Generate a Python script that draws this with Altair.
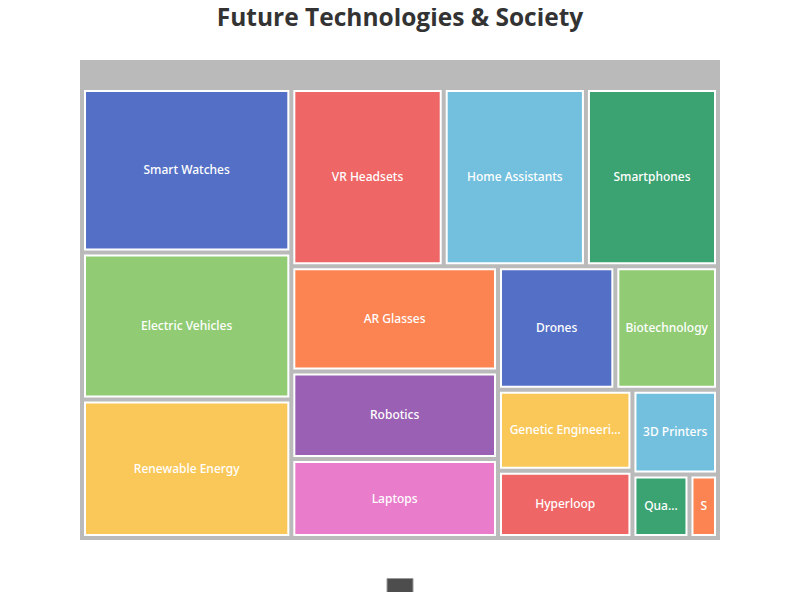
import math
import altair as alt
import pandas as pd

# ---- data ----
names = ["Smart Watches", "Electric Vehicles", "Renewable Energy", "VR Headsets",
         "Home Assistants", "Smartphones", "AR Glasses", "Robotics", "Laptops",
         "Drones", "Biotechnology", "Genetic Engineering", "Hyperloop",
         "3D Printers", "Quantum Computing", "Space Tourism"]
values = [95, 85, 80, 75, 70, 65, 60, 50, 45, 40, 35, 30, 25, 20, 10, 5]
title_text = "Future Technologies & Society"

# ---- style / layout parameters ----
palette = ['#5470c6', '#91cc75', '#fac858', '#ee6666', '#73c0de',
           '#3ba272', '#fc8452', '#9a60b4', '#ea7ccc']
W, H = 640, 480
CHILD_X, CHILD_Y, CHILD_W, CHILD_H = 2, 28, 636, 450
HALF_GAP = 2


def squarify(vals, x, y, w, h, hg):
    """ECharts-style squarified treemap layout."""
    total = float(sum(vals))
    areas = [v / total * w * h for v in vals]
    rect = {"x": x, "y": y, "width": w, "height": h}
    ratio = 0.5 * (1 + math.sqrt(5))
    out = [None] * len(vals)

    def worst(row, row_area, fixed):
        amax = max(areas[j] for j in row)
        amin = min(areas[j] for j in row)
        sq = row_area * row_area
        f = fixed * fixed * ratio
        return max(f * amax / sq, sq / (f * amin)) if sq else math.inf

    def position(row, row_area, fixed, flush):
        horiz = fixed == rect["width"]
        k0, k1 = ("x", "y") if horiz else ("y", "x")
        d0, d1 = ("width", "height") if horiz else ("height", "width")
        last = rect[k0]
        other = row_area / fixed if fixed else 0
        if flush or other > rect[d1]:
            other = rect[d1]
        for n, j in enumerate(row):
            step = areas[j] / other if other else 0
            wh1 = max(other - 2 * hg, 0)
            remain = rect[k0] + rect[d0] - last
            mod = remain if (n == len(row) - 1 or remain < step) else step
            wh0 = max(mod - 2 * hg, 0)
            lay = {d1: wh1, d0: wh0,
                   k1: rect[k1] + min(hg, wh1 / 2),
                   k0: last + min(hg, wh0 / 2)}
            last += mod
            out[j] = lay
        rect[k1] += other
        rect[d1] -= other

    fixed = min(w, h)
    best = math.inf
    row, row_area = [], 0.0
    i = 0
    while i < len(vals):
        row.append(i)
        row_area += areas[i]
        score = worst(row, row_area, fixed)
        if score <= best:
            i += 1
            best = score
        else:
            row.pop()
            row_area -= areas[i]
            position(row, row_area, fixed, False)
            fixed = min(rect["width"], rect["height"])
            row, row_area = [], 0.0
            best = math.inf
    if row:
        position(row, row_area, fixed, True)
    return out


# approximate Noto Sans advance widths (per 1000 em)
_CW = {"a": 561, "b": 615, "c": 480, "d": 615, "e": 564, "f": 344, "g": 615,
       "h": 618, "i": 258, "j": 258, "k": 534, "l": 258, "m": 935, "n": 618,
       "o": 605, "p": 615, "q": 615, "r": 413, "s": 479, "t": 361, "u": 618,
       "v": 508, "w": 772, "x": 529, "y": 510, "z": 470, " ": 260, ".": 268}


def text_width(s, size=12):
    w = 0
    for ch in s:
        if ch in _CW:
            w += _CW[ch]
        elif ch.isdigit():
            w += 572
        else:
            w += 650
    return w * size / 1000.0


def fit_label(s, avail):
    if text_width(s) <= avail:
        return s
    ell = "..."
    if text_width(s[0] + ell) <= avail:
        k = len(s)
        while k > 1 and text_width(s[:k] + ell) > avail:
            k -= 1
        return s[:k] + ell
    k = len(s)
    while k > 1 and text_width(s[:k]) > avail:
        k -= 1
    return s[:k]


lay = squarify(values, CHILD_X, CHILD_Y, CHILD_W, CHILD_H, HALF_GAP)
rows = []
for idx, (nm, v, l) in enumerate(zip(names, values, lay)):
    rows.append({
        "name": nm, "value": v,
        "x0": l["x"] + 1, "x1": l["x"] + l["width"] - 1,
        "y0": l["y"] + 1, "y1": l["y"] + l["height"] - 1,
        "xc": l["x"] + l["width"] / 2, "yc": l["y"] + l["height"] / 2,
        "label": fit_label(nm, l["width"] - 17),
        "color": palette[idx % len(palette)],
    })
df = pd.DataFrame(rows)
root = pd.DataFrame([{"x0": 0, "x1": W, "y0": 0, "y1": H}])

xs = alt.Scale(domain=[0, W], nice=False, zero=False)
ys = alt.Scale(domain=[0, H], nice=False, zero=False, reverse=True)

bg = alt.Chart(root).mark_rect(color="#bababa").encode(
    x=alt.X("x0:Q", scale=xs, axis=None), x2="x1:Q",
    y=alt.Y("y0:Q", scale=ys, axis=None), y2="y1:Q")

leaves = alt.Chart(df).mark_rect(stroke="white", strokeWidth=2).encode(
    x=alt.X("x0:Q", scale=xs, axis=None), x2="x1:Q",
    y=alt.Y("y0:Q", scale=ys, axis=None), y2="y1:Q",
    color=alt.Color("color:N", scale=None, legend=None),
    tooltip=["name:N", "value:Q"])

labels = alt.Chart(df).mark_text(color="white", fontSize=12, font="Noto Sans",
                                 fontWeight=500, align="center",
                                 baseline="middle").encode(
    x=alt.X("xc:Q", scale=xs, axis=None),
    y=alt.Y("yc:Q", scale=ys, axis=None),
    text="label:N")

crumb = alt.Chart(root).mark_rect(color="#4d4d4d", stroke="#9a9a9a",
                                  strokeWidth=1).encode(
    x=alt.value(307), x2=alt.value(333), y=alt.value(518.5), y2=alt.value(545))

chart = alt.layer(bg, leaves, labels, crumb).properties(
    width=W, height=H,
    title=alt.TitleParams(title_text, fontSize=24.5, fontWeight="bold",
                          font="Open Sans", color="#333333", anchor="middle",
                          baseline="alphabetic", offset=26, dy=16),
    autosize=alt.AutoSizeParams(type="none"),
    padding={"left": 72, "top": 52, "right": 72, "bottom": 52},
).configure_view(stroke=None)

chart.save("out.html", embed_options={"renderer": "svg", "actions": False})
